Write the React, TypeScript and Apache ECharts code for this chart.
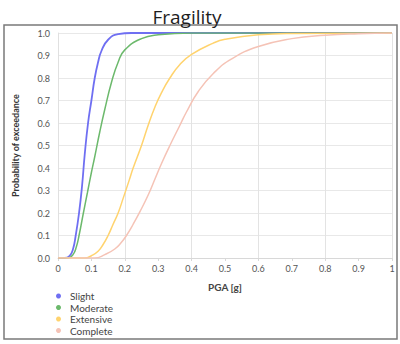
import React, { useEffect, useRef } from "react";
import * as echarts from "echarts";

const seriesNames = ["Slight", "Moderate", "Extensive", "Complete"];
const seriesColors = ["#6f6ff2", "#6cb96c", "#ffd36e", "#f5c3b6"];

const slightX = [0, 0.02, 0.035, 0.045, 0.053, 0.063, 0.072, 0.08, 0.09, 0.1, 0.11, 0.12, 0.13, 0.15, 0.18, 0.22, 1.0];
const slightP = [0, 0, 0.01, 0.04, 0.1, 0.2, 0.32, 0.46, 0.6, 0.7, 0.8, 0.87, 0.92, 0.97, 0.995, 1, 1];

const moderateX = [0, 0.03, 0.045, 0.055, 0.063, 0.076, 0.088, 0.1, 0.11, 0.125, 0.14, 0.16, 0.18, 0.2, 0.25, 0.3, 0.4, 1.0];
const moderateP = [0, 0, 0.015, 0.05, 0.1, 0.2, 0.29, 0.38, 0.45, 0.56, 0.66, 0.78, 0.87, 0.925, 0.975, 0.992, 1, 1];

const extensiveX = [0, 0.08, 0.1, 0.12, 0.135, 0.15, 0.165, 0.18, 0.195, 0.213, 0.225, 0.25, 0.27, 0.29, 0.31, 0.335, 0.365, 0.4, 0.465, 0.5, 0.6, 0.7, 1.0];
const extensiveP = [0, 0, 0.01, 0.03, 0.06, 0.1, 0.15, 0.2, 0.265, 0.345, 0.4, 0.5, 0.59, 0.67, 0.735, 0.8, 0.86, 0.905, 0.955, 0.972, 0.992, 0.998, 1];

const completeX = [0, 0.11, 0.14, 0.17, 0.19, 0.205, 0.225, 0.245, 0.27, 0.29, 0.31, 0.335, 0.365, 0.385, 0.42, 0.465, 0.52, 0.6, 0.7, 0.8, 0.9, 1.0];
const completeP = [0, 0, 0.015, 0.04, 0.07, 0.1, 0.15, 0.205, 0.28, 0.35, 0.42, 0.5, 0.59, 0.65, 0.74, 0.82, 0.885, 0.94, 0.975, 0.99, 0.997, 1];

const xTickLabels = ["0", "0.1", "0.2", "0.3", "0.4", "0.5", "0.6", "0.7", "0.8", "0.9", "1"];
const yTickLabels = ["0.0", "0.1", "0.2", "0.3", "0.4", "0.5", "0.6", "0.7", "0.8", "0.9", "1.0"];

const zip = (xs: number[], ps: number[]) => xs.map((x, i) => [x, ps[i]]);

export default function App() {
  const ref = useRef<HTMLDivElement>(null);
  useEffect(() => {
    document.body.style.margin = "0";
    const chart = echarts.init(ref.current!, null, { renderer: "svg" });
    const allX = [slightX, moderateX, extensiveX, completeX];
    const allP = [slightP, moderateP, extensiveP, completeP];
    const font = "Lato, 'Noto Sans', sans-serif";
    chart.setOption({
      animation: false,
      backgroundColor: "#ffffff",
      title: {
        text: "Fragility",
        left: 182,
        textAlign: "center",
        top: 2,
        textStyle: { fontFamily: "'Open Sans', 'Noto Sans', sans-serif", fontSize: 19, fontWeight: "normal", color: "#1e1e1e" },
      },
      graphic: [
        {
          type: "rect",
          shape: { x: 4, y: 25, width: 393, height: 314 },
          style: { fill: "none", stroke: "#7a7a7a", lineWidth: 1.5 },
          silent: true,
        },
      ],
      legend: {
        orient: "vertical",
        left: 56,
        top: 291,
        padding: 0,
        height: 60,
        icon: "circle",
        itemWidth: 5,
        itemHeight: 5,
        itemGap: 1.5,
        data: seriesNames,
        textStyle: { fontFamily: font, fontSize: 10, lineHeight: 10, color: "#444", padding: [0, 0, 0, 4] },
      },
      grid: { left: 58, right: 8, top: 33, bottom: 86 },
      xAxis: [
        {
          type: "value",
          min: 0,
          max: 1,
          interval: 0.1,
          name: "PGA [g]",
          nameLocation: "middle",
          nameGap: 24,
          nameTextStyle: { fontFamily: font, fontSize: 10, fontWeight: "bold", color: "#444" },
          axisLine: { show: true, lineStyle: { color: "#d8d8d8" } },
          axisTick: { show: true, length: 3, lineStyle: { color: "#d8d8d8" } },
          axisLabel: {
            fontFamily: font,
            fontSize: 9,
            color: "#555",
            margin: 6,
            formatter: (v: number) => xTickLabels[Math.round(v * 10)] ?? "",
          },
          splitLine: { show: false },
        },
        {
          type: "value",
          min: 0,
          max: 1,
          interval: 0.2,
          position: "bottom",
          axisLine: { show: false },
          axisTick: { show: false },
          axisLabel: { show: false },
          splitLine: { show: true, lineStyle: { color: "#e3e3e3", width: 1 } },
        },
      ],
      yAxis: {
        type: "value",
        min: 0,
        max: 1,
        interval: 0.1,
        name: "Probability of exceedance",
        nameLocation: "middle",
        nameGap: 38,
        nameTextStyle: { fontFamily: font, fontSize: 9, fontWeight: "bold", color: "#333" },
        axisLine: { show: true, lineStyle: { color: "#e0e0e0" } },
        axisTick: { show: false },
        axisLabel: {
          fontFamily: font,
          fontSize: 9,
          color: "#555",
          margin: 8,
          formatter: (v: number) => yTickLabels[Math.round(v * 10)] ?? "",
        },
        splitLine: { show: true, lineStyle: { color: "#e8e8e8" } },
      },
      series: seriesNames.map((name, i) => ({
        name,
        type: "line",
        xAxisIndex: 0,
        data: zip(allX[i], allP[i]),
        smooth: 0.5,
        showSymbol: false,
        symbol: "circle",
        color: seriesColors[i],
        lineStyle: { width: i === 0 ? 1.8 : 1.5, color: seriesColors[i] },
      })),
    });
    return () => chart.dispose();
  }, []);
  return <div ref={ref} style={{ width: 400, height: 344 }} />;
}
